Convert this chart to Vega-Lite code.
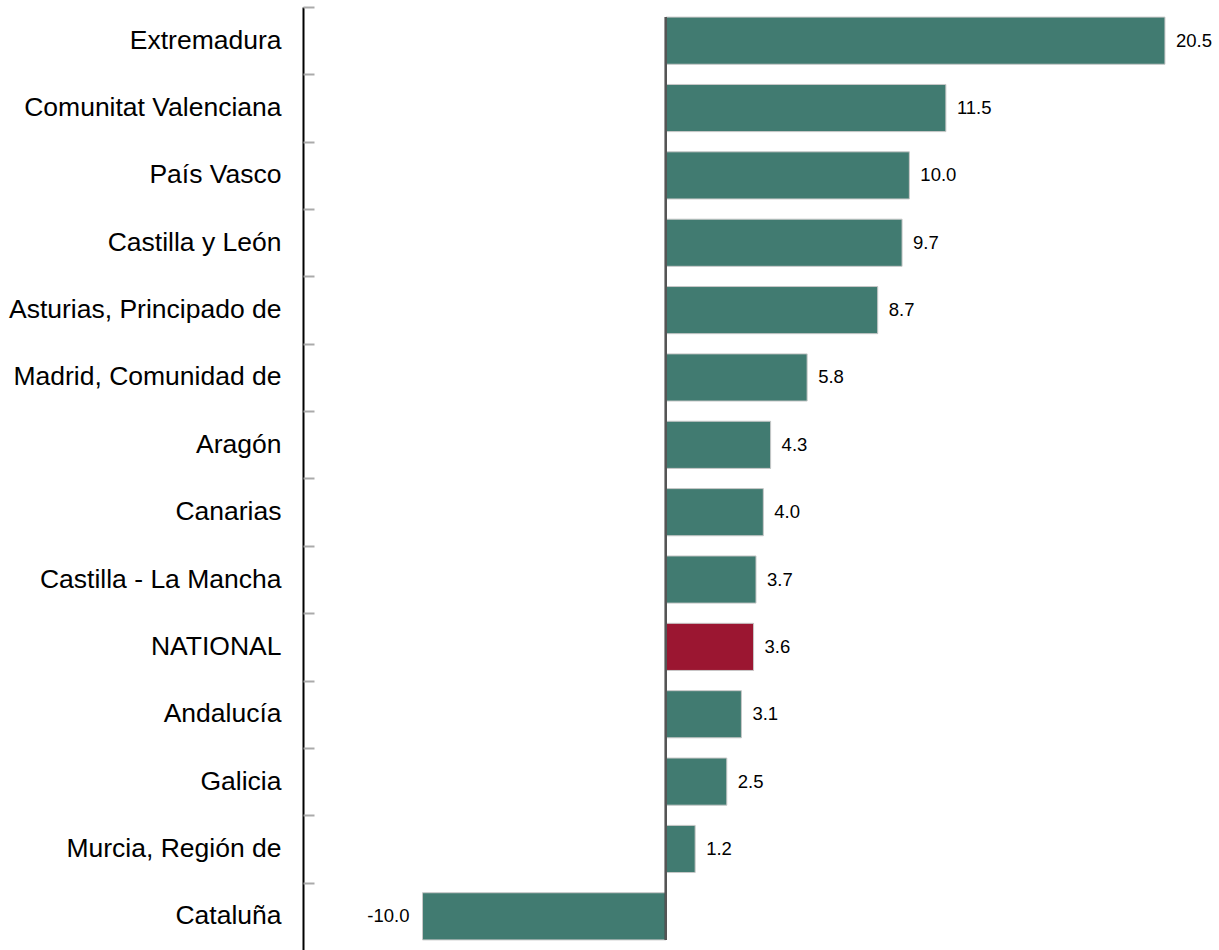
{
  "$schema": "https://vega.github.io/schema/vega-lite/v6.json",
  "autosize": {"type": "none"},
  "padding": {"left": 303, "top": 7, "right": 0, "bottom": 0},
  "width": 916,
  "height": 943,
  "background": "white",
  "config": {
    "view": {"stroke": null},
    "font": "Liberation Sans",
    "locale": {"number": {"decimal": ".", "thousands": ",", "grouping": [3], "currency": ["", ""], "minus": "-"}}
  },
  "data": {
    "values": [
      {"region": "Extremadura", "value": 20.5, "kind": "region"},
      {"region": "Comunitat Valenciana", "value": 11.5, "kind": "region"},
      {"region": "País Vasco", "value": 10.0, "kind": "region"},
      {"region": "Castilla y León", "value": 9.7, "kind": "region"},
      {"region": "Asturias, Principado de", "value": 8.7, "kind": "region"},
      {"region": "Madrid, Comunidad de", "value": 5.8, "kind": "region"},
      {"region": "Aragón", "value": 4.3, "kind": "region"},
      {"region": "Canarias", "value": 4.0, "kind": "region"},
      {"region": "Castilla - La Mancha", "value": 3.7, "kind": "region"},
      {"region": "NATIONAL", "value": 3.6, "kind": "national"},
      {"region": "Andalucía", "value": 3.1, "kind": "region"},
      {"region": "Galicia", "value": 2.5, "kind": "region"},
      {"region": "Murcia, Región de", "value": 1.2, "kind": "region"},
      {"region": "Cataluña", "value": -10.0, "kind": "region"}
    ]
  },
  "resolve": {"axis": {"y": "independent"}},
  "layer": [
    {
      "mark": {"type": "bar", "stroke": "#c8c8c8", "strokeWidth": 1},
      "encoding": {
        "y": {
          "field": "region",
          "type": "nominal",
          "sort": null,
          "scale": {"paddingInner": 0.3, "paddingOuter": 0.15},
          "axis": {
            "orient": "left",
            "title": null,
            "domainColor": "#000000",
            "domainWidth": 2,
            "ticks": false,
            "labelFontSize": 26.5,
            "labelColor": "#000000",
            "labelPadding": 22,
            "labelLimit": 0,
            "labelFont": "Liberation Sans"
          }
        },
        "x": {
          "field": "value",
          "type": "quantitative",
          "scale": {"domain": [-14.91, 22.72], "nice": false, "zero": false},
          "axis": null
        },
        "color": {
          "field": "kind",
          "type": "nominal",
          "scale": {"domain": ["region", "national"], "range": ["#417b71", "#9b1631"]},
          "legend": null
        }
      }
    },
    {
      "mark": {"type": "rule", "color": "#555555", "strokeWidth": 2},
      "encoding": {
        "x": {"datum": 0, "type": "quantitative"},
        "y": {"datum": "Extremadura", "type": "nominal", "bandPosition": 0, "axis": null},
        "y2": {"datum": "Cataluña", "bandPosition": 1}
      }
    },
    {
      "transform": [{"filter": "datum.value >= 0"}],
      "mark": {"type": "text", "align": "left", "dx": 11, "fontSize": 18.5, "color": "#000000"},
      "encoding": {
        "y": {
          "field": "region",
          "type": "nominal",
          "sort": null,
          "axis": {
            "orient": "right",
            "offset": -916,
            "title": null,
            "domain": false,
            "labels": false,
            "tickColor": "#aaaaaa",
            "tickWidth": 2,
            "tickSize": 11,
            "tickOffset": -33.68
          }
        },
        "x": {"field": "value", "type": "quantitative"},
        "text": {"field": "value", "type": "quantitative", "format": ".1f"}
      }
    },
    {
      "transform": [{"filter": "datum.value < 0"}],
      "mark": {"type": "text", "align": "right", "dx": -13, "fontSize": 18.5, "color": "#000000"},
      "encoding": {
        "y": {"field": "region", "type": "nominal", "sort": null, "axis": null},
        "x": {"field": "value", "type": "quantitative"},
        "text": {"field": "value", "type": "quantitative", "format": ".1f"}
      }
    }
  ]
}
